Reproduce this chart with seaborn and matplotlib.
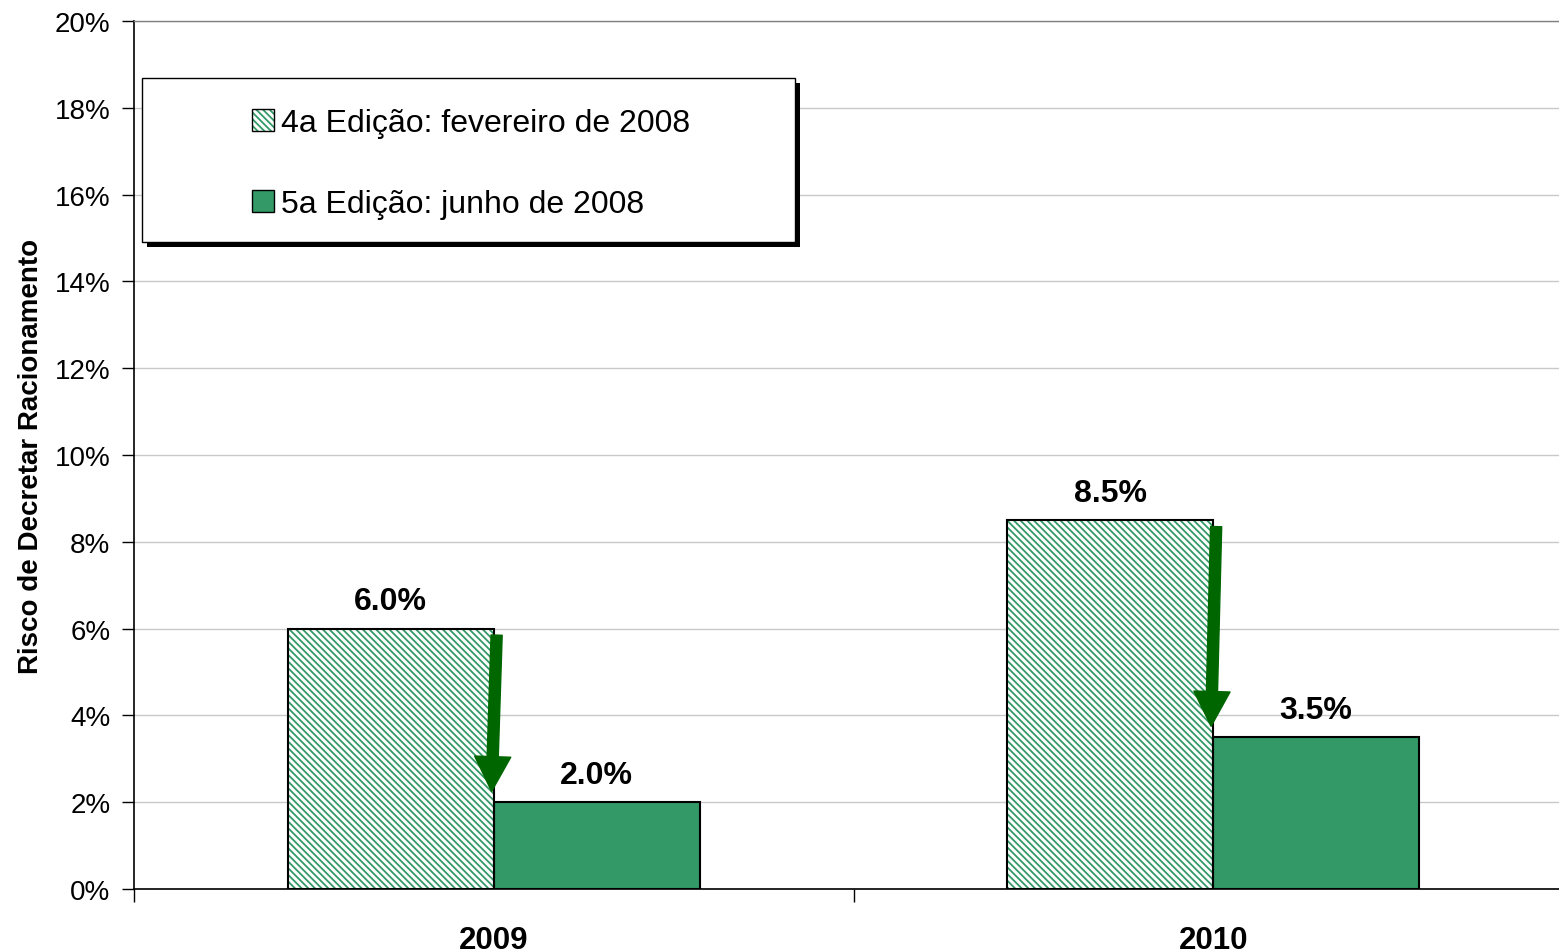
import matplotlib
matplotlib.use("Agg")
import matplotlib.pyplot as plt
from matplotlib.patches import Rectangle, Patch
from matplotlib.legend_handler import HandlerTuple
from matplotlib.ticker import FuncFormatter
import pandas as pd
import seaborn as sns

# ── Data ──────────────────────────────────────────────────────────────────────
years = ["2009", "2010"]
editions = ["4a Edição: fevereiro de 2008", "5a Edição: junho de 2008"]
feb_2008 = [6.0, 8.5]
jun_2008 = [2.0, 3.5]

GREEN = "#339966"
ARROW = "#006600"
HATCH = "\\" * 5

df = pd.DataFrame({
    "year": years * 2,
    "edition": [editions[0]] * 2 + [editions[1]] * 2,
    "value": feb_2008 + jun_2008,
})

sns.set_theme(style="white")
plt.rcParams["font.family"] = ["Liberation Sans", "DejaVu Sans"]
plt.rcParams["text.color"] = "black"
plt.rcParams["hatch.linewidth"] = 1.3

fig = plt.figure(figsize=(15.59, 9.53), dpi=100)
# plot area runs a little past the right edge of the picture
ax = fig.add_axes([134 / 1559, 63 / 953, 1439 / 1559, 868 / 953])

sns.barplot(data=df, x="year", y="value", hue="edition", order=years,
            hue_order=editions, palette=[GREEN, GREEN], width=0.572,
            edgecolor="black", linewidth=1.5, saturation=1, ax=ax,
            legend=False)

# hatched bars: green stripes on white, black outline on top
for p in ax.containers[0]:
    p.set_facecolor("white")
    p.set_edgecolor(GREEN)
    p.set_hatch(HATCH)
    p.set_linewidth(0)
    ax.add_patch(Rectangle(p.get_xy(), p.get_width(), p.get_height(),
                           fill=False, ec="black", lw=1.5, zorder=p.get_zorder() + 0.1))

# value labels
for cont, vals in zip(ax.containers, [feb_2008, jun_2008]):
    ax.bar_label(cont, labels=[f"{v:.1f}%" for v in vals], padding=9,
                 fontsize=23, fontweight="bold", color="black")

# arrows from the February bar down to the June bar
for i, (a, b) in enumerate(zip(feb_2008, jun_2008)):
    ax.annotate("", xy=(i - 0.003, b + 0.25), xytext=(i + 0.004, a - 0.15),
                arrowprops=dict(arrowstyle="simple,head_width=0.52,head_length=0.5,tail_width=0.16",
                                mutation_scale=50, color=ARROW, shrinkA=0, shrinkB=0),
                zorder=5)

# ── Axes styling ──────────────────────────────────────────────────────────────
ax.set_ylim(0, 20)
ax.set_xlim(-0.5, 1.5)
ax.set_yticks(range(0, 21, 2))
ax.yaxis.set_major_formatter(FuncFormatter(lambda v, _: f"{v:.0f}%"))
ax.tick_params(axis="y", which="major", left=True, length=9, width=1,
               color="black", labelsize=20, pad=8, labelcolor="black")
ax.grid(axis="y", color="#c8c8c8", lw=1)
ax.set_axisbelow(True)

ax.set_xticks([-0.5, 0.5, 1.5])
ax.set_xticklabels([])
ax.tick_params(axis="x", which="major", bottom=True, length=9, width=1, color="black")
ax.set_xticks([0, 1], minor=True)
ax.set_xticklabels(years, minor=True, fontsize=22.5, fontweight="bold")
ax.tick_params(axis="x", which="minor", length=0, pad=26, labelcolor="black")

ax.set_xlabel("")
ax.set_ylabel("Risco de Decretar Racionamento", fontsize=20, fontweight="bold",
              labelpad=8, color="black")

for s in ("left", "bottom"):
    ax.spines[s].set_color("black")
    ax.spines[s].set_linewidth(1.2)
ax.spines["top"].set_color("#808080")
ax.spines["top"].set_linewidth(1)
ax.spines["right"].set_visible(False)

# ── Legend box with shadow ────────────────────────────────────────────────────
bx, by, bw, bh = 8 / 1439, 0.745, 653 / 1439, 0.189
ax.add_patch(Rectangle((bx + 5 / 1439, by - 0.0058), bw, bh, transform=ax.transAxes,
                       fc="black", ec="none", zorder=6))
ax.add_patch(Rectangle((bx, by), bw, bh, transform=ax.transAxes,
                       fc="white", ec="black", lw=1, zorder=7))

h_hatch = (Patch(facecolor="white", edgecolor=GREEN, hatch=HATCH, lw=0),
           Patch(fill=False, edgecolor="black", lw=1))
h_solid = Patch(facecolor=GREEN, edgecolor="black", lw=1)
leg = ax.legend([h_hatch, h_solid], editions, loc="center left",
                bbox_to_anchor=(118 / 1439, 0.836), frameon=False, fontsize=23,
                labelspacing=1.6, handlelength=0.68, handleheight=0.68,
                handletextpad=0.22, borderpad=0, borderaxespad=0,
                handler_map={tuple: HandlerTuple(ndivide=1)})
leg.set_zorder(8)

fig.savefig("out.png", dpi=100)
